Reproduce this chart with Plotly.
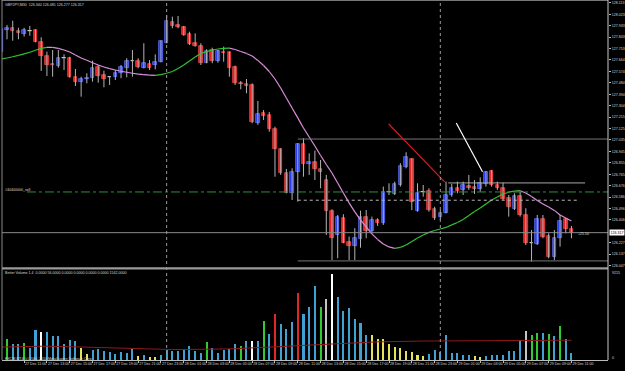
import plotly.graph_objects as go

# ---------------- data ----------------
candle_open = [
    127.729, 127.902, 127.915, 127.889, 127.870, 127.891, 127.899, 127.803, 127.695, 127.632,
    127.619, 127.677, 127.679, 127.532, 127.488, 127.512, 127.524, 127.608, 127.543, 127.527,
    127.527, 127.559, 127.603, 127.653, 127.656, 127.603, 127.634, 127.624, 127.650, 127.799,
    127.964, 127.939, 127.920, 127.870, 127.795, 127.776, 127.642, 127.742, 127.656, 127.729,
    127.724, 127.606, 127.480, 127.475, 127.467, 127.171, 127.245, 127.231, 127.121, 126.962,
    126.773, 126.620, 126.781, 127.003, 126.844, 126.862, 126.807, 126.720, 126.479, 126.288,
    126.424, 126.233, 126.201, 126.257, 126.432, 126.322, 126.406, 126.385, 126.628, 126.610,
    126.681, 126.825, 126.883, 126.479, 126.628, 126.636, 126.490, 126.427, 126.463, 126.602,
    126.655, 126.642, 126.673, 126.668, 126.647, 126.689, 126.793, 126.681, 126.660, 126.576,
    126.490, 126.594, 126.445, 126.223, 126.217, 126.411, 126.280, 126.113, 126.262, 126.411,
    126.337]
candle_high = [
    127.994, 127.939, 127.972, 127.917, 127.917, 127.931, 127.905, 127.842, 127.729, 127.742,
    127.742, 127.708, 127.689, 127.593, 127.532, 127.559, 127.658, 127.624, 127.579, 127.538,
    127.585, 127.624, 127.677, 127.742, 127.677, 127.795, 127.663, 127.708, 127.818, 128.017,
    128.004, 128.009, 127.931, 127.886, 127.873, 127.795, 127.748, 127.760, 127.742, 127.768,
    127.729, 127.619, 127.498, 127.514, 127.480, 127.341, 127.270, 127.255, 127.139, 126.969,
    126.807, 126.812, 127.009, 127.048, 126.930, 126.951, 126.877, 126.760, 126.490, 126.445,
    126.451, 126.275, 126.341, 126.479, 126.484, 126.432, 126.419, 126.668, 126.694, 126.707,
    126.852, 126.938, 126.891, 126.694, 126.681, 126.655, 126.510, 126.484, 126.707, 126.689,
    126.707, 126.707, 126.760, 126.720, 126.741, 126.791, 126.799, 126.707, 126.699, 126.602,
    126.616, 126.628, 126.498, 126.327, 126.445, 126.445, 126.301, 126.327, 126.445, 126.419,
    126.359]
candle_low = [
    127.722, 127.826, 127.815, 127.826, 127.847, 127.854, 127.803, 127.577, 127.538, 127.532,
    127.603, 127.585, 127.524, 127.459, 127.375, 127.480, 127.493, 127.485, 127.449, 127.467,
    127.506, 127.520, 127.527, 127.532, 127.598, 127.598, 127.585, 127.590, 127.645, 127.795,
    127.913, 127.913, 127.854, 127.781, 127.768, 127.624, 127.638, 127.638, 127.642, 127.650,
    127.532, 127.467, 127.433, 127.402, 127.166, 127.153, 127.192, 127.100, 126.746, 126.760,
    126.616, 126.563, 126.550, 126.746, 126.760, 126.720, 126.655, 126.288, 126.091, 126.105,
    126.223, 126.091, 126.091, 126.188, 126.262, 126.301, 126.359, 126.367, 126.602, 126.602,
    126.668, 126.812, 126.484, 126.471, 126.589, 126.471, 126.406, 126.406, 126.458, 126.589,
    126.616, 126.602, 126.642, 126.610, 126.628, 126.668, 126.668, 126.642, 126.563, 126.432,
    126.484, 126.432, 126.209, 126.078, 126.209, 126.262, 126.105, 126.091, 126.196, 126.301,
    126.262]
candle_close = [
    127.905, 127.915, 127.889, 127.876, 127.899, 127.890, 127.807, 127.695, 127.627, 127.622,
    127.682, 127.676, 127.532, 127.488, 127.514, 127.524, 127.601, 127.540, 127.516, 127.526,
    127.564, 127.606, 127.656, 127.652, 127.606, 127.638, 127.603, 127.650, 127.813, 127.970,
    127.931, 127.920, 127.862, 127.789, 127.776, 127.642, 127.734, 127.656, 127.734, 127.716,
    127.603, 127.480, 127.472, 127.461, 127.176, 127.237, 127.226, 127.119, 126.962, 126.773,
    126.620, 126.785, 127.001, 126.844, 126.862, 126.807, 126.785, 126.479, 126.262, 126.432,
    126.227, 126.204, 126.262, 126.432, 126.322, 126.406, 126.380, 126.624, 126.627, 126.686,
    126.830, 126.899, 126.550, 126.616, 126.627, 126.484, 126.419, 126.463, 126.602, 126.655,
    126.636, 126.679, 126.660, 126.647, 126.699, 126.785, 126.681, 126.655, 126.569, 126.506,
    126.594, 126.445, 126.223, 126.222, 126.411, 126.275, 126.113, 126.262, 126.398, 126.333,
    126.306]
moving_average = [
    127.671, 127.679, 127.689, 127.700, 127.711, 127.724, 127.740, 127.755, 127.763, 127.762,
    127.755, 127.742, 127.726, 127.703, 127.679, 127.661, 127.642, 127.624, 127.608, 127.595,
    127.585, 127.575, 127.567, 127.559, 127.553, 127.548, 127.544, 127.543, 127.549, 127.559,
    127.573, 127.597, 127.624, 127.656, 127.687, 127.715, 127.729, 127.742, 127.750, 127.754,
    127.756, 127.746, 127.730, 127.715, 127.695, 127.660, 127.620, 127.573, 127.514, 127.443,
    127.365, 127.286, 127.208, 127.129, 127.058, 126.987, 126.913, 126.842, 126.775, 126.697,
    126.618, 126.540, 126.469, 126.406, 126.351, 126.296, 126.253, 126.217, 126.194, 126.183,
    126.190, 126.209, 126.237, 126.264, 126.288, 126.308, 126.323, 126.335, 126.347, 126.367,
    126.386, 126.410, 126.441, 126.473, 126.500, 126.532, 126.563, 126.587, 126.610, 126.624,
    126.632, 126.636, 126.618, 126.591, 126.559, 126.532, 126.508, 126.481, 126.445, 126.422,
    126.398]
volume = [
    2537, 2126, 1684, 1612, 1715, 1273, 3122, 2845, 2876, 2465,
    2506, 1612, 2023, 1920, 1273, 657, 1068, 1171, 893, 822,
    657, 791, 688, 1099, 380, 555, 277, 277, 483, 1068,
    893, 924, 996, 1407, 924, 700, 1818, 1273, 719, 996,
    1171, 1684, 1407, 1951, 1951, 1951, 4005, 2639, 4663, 3666,
    3153, 3872, 6881, 4693, 5381, 7569, 5381, 6203, 8801, 6470,
    5001, 5279, 4180, 3738, 2609, 2537, 2198, 2126, 1612, 1335,
    1273, 924, 822, 555, 452, 585, 996, 822, 2537, 719,
    760, 555, 483, 380, 349, 380, 483, 555, 555, 924,
    924, 1951, 2978, 2537, 2773, 2773, 2711, 2434, 3461, 2198,
    719]
# Better Volume bar class: N normal, U climax up, D climax down, C churn, L low volume, S climax churn
volume_class = [
    "U", "C", "N", "N", "C", "N", "N", "D", "N", "N",
    "N", "N", "N", "N", "L", "L", "N", "N", "N", "N",
    "N", "N", "N", "N", "L", "N", "L", "L", "N", "N",
    "N", "N", "N", "N", "N", "N", "C", "N", "N", "N",
    "N", "N", "C", "N", "D", "N", "C", "N", "U", "N",
    "N", "N", "U", "N", "N", "N", "C", "S", "D", "N",
    "N", "N", "N", "N", "N", "L", "L", "L", "L", "L",
    "L", "L", "L", "L", "L", "N", "N", "N", "N", "N",
    "N", "N", "N", "L", "L", "N", "N", "N", "N", "N",
    "N", "N", "S", "C", "C", "N", "C", "N", "C", "N",
    "N"]
volume_average = [
    1325, 1345, 1356, 1366, 1376, 1386, 1397, 1407, 1407, 1407,
    1397, 1386, 1376, 1356, 1335, 1315, 1294, 1273, 1253, 1232,
    1212, 1191, 1171, 1150, 1140, 1119, 1099, 1089, 1078, 1068,
    1068, 1068, 1068, 1068, 1068, 1068, 1078, 1089, 1099, 1119,
    1140, 1160, 1181, 1202, 1232, 1253, 1273, 1304, 1335, 1366,
    1397, 1428, 1458, 1499, 1530, 1571, 1612, 1643, 1684, 1715,
    1746, 1766, 1787, 1808, 1828, 1849, 1859, 1869, 1890, 1900,
    1910, 1920, 1931, 1931, 1941, 1941, 1941, 1951, 1951, 1951,
    1962, 1962, 1962, 1972, 1972, 1972, 1982, 1982, 1982, 1992,
    1992, 1992, 2003, 2003, 2003, 2013, 2013, 2013, 2023, 2023,
    2023]
time_labels = [
    "27 Dec 2010", "27 Dec 11:00", "27 Dec 13:00", "27 Dec 15:00", "27 Dec 17:00",
    "27 Dec 19:00", "27 Dec 21:00", "27 Dec 23:00", "28 Dec 01:00", "28 Dec 03:00",
    "28 Dec 05:00", "28 Dec 07:00", "28 Dec 09:00", "28 Dec 11:00", "28 Dec 13:00",
    "28 Dec 15:00", "28 Dec 17:00", "28 Dec 19:00", "28 Dec 21:00", "28 Dec 23:00",
    "29 Dec 01:00", "29 Dec 03:00", "29 Dec 05:00", "29 Dec 07:00", "29 Dec 09:00",
    "29 Dec 11:00"]
time_label_bars = [0, 4, 8, 12, 16, 20, 24, 28, 32, 36, 40, 44, 48, 52, 56, 60, 64, 68,
                   72, 76, 80, 84, 88, 92, 96, 100]
price_tick_labels = [
    "128.113", "128.023", "127.933", "127.843", "127.753", "127.664", "127.574", "127.484",
    "127.394", "127.304", "127.215", "127.125", "127.035", "126.945", "126.855", "126.765",
    "126.676", "126.586", "126.496", "126.406", "126.227", "126.137", "126.047"]
day_separator_bars = [29, 77]
# horizontal objects: price, first bar
grey_levels = [127.042, 126.084]
grey_levels_from = [52, 52]
light_level = 126.697
light_level_from = 78.4
light_level_to = 102.4
sell_level = 126.626
dotted_level = 126.561
dotted_level_from = 52
dotted_level_to = 101.2
# trend lines: (bar, price) anchors
red_trend_bars = [67.95, 77.75]
red_trend_prices = [127.160, 126.705]
white_trend_bars = [79.8, 84.4]
white_trend_prices = [127.168, 126.785]
volume_scale_max = 9215

title_text = "GBPJPY,M30  126.340 126.481 126.277 126.317"
volume_title = "Better Volume 1.4  0.0000 56.0000 0.0000 0.0000 0.0000 0.0000 1542.0000"
copyright_text = "FXCM-MT4 (c) 2001-2010 MetaQuotes Software Corp."
sell_text = "#40400000_sell"
pips_text = "+25.50"
bid_text = "126.317"

# ---------------- styling ----------------
FONT = "Liberation Sans"
FS = 3.6
TXT = "#d8d8d8"
BULL = "#2038f4"
BULL_EDGE = "#6a7cff"
BEAR = "#e81f1f"
BEAR_EDGE = "#ff4a4a"
DOJI = "#eeeeee"
WICK = "#b4b4b4"
MA_UP = "#33c233"
MA_DOWN = "#d98fd9"
VOL_COLORS = {"N": "#3fa2d2", "U": "#e02626", "D": "#ffffff", "C": "#2ecc2e",
              "L": "#e3e35a", "S": "#c4c4c4"}

n = len(candle_open)
bars = list(range(n))
X0, X1 = 0.122, 106.41
Y0, Y1 = 126.036, 128.135

fig = go.Figure()

# wicks
wx, wy = [], []
for i in bars:
    wx += [i, i, None]
    wy += [candle_low[i], candle_high[i], None]
fig.add_trace(go.Scatter(x=wx, y=wy, mode="lines", line=dict(color=WICK, width=1),
                         hoverinfo="skip", yaxis="y"))

# bodies
base, height, fill, edge = [], [], [], []
for o, c in zip(candle_open, candle_close):
    base.append(min(o, c))
    height.append(abs(c - o))
    if abs(c - o) < 0.003:
        fill.append(DOJI); edge.append(DOJI)
    elif c > o:
        fill.append(BULL); edge.append(BULL_EDGE)
    else:
        fill.append(BEAR); edge.append(BEAR_EDGE)
fig.add_trace(go.Bar(x=bars, y=height, base=base, width=0.62, yaxis="y",
                     marker=dict(color=fill, line=dict(color=edge, width=0.7)),
                     hoverinfo="skip"))

# moving average coloured by slope
for colr, rising in ((MA_UP, True), (MA_DOWN, False)):
    mx, my = [], []
    for i in range(1, n):
        up = moving_average[i] >= moving_average[i - 1]
        if up == rising:
            mx += [i - 1, i, None]
            my += [moving_average[i - 1], moving_average[i], None]
    fig.add_trace(go.Scatter(x=mx, y=my, mode="lines", line=dict(color=colr, width=1.2),
                             hoverinfo="skip", yaxis="y"))

# horizontal objects
for lv, start in zip(grey_levels, grey_levels_from):
    fig.add_trace(go.Scatter(x=[start, X1], y=[lv, lv], mode="lines",
                             line=dict(color="#777777", width=1), hoverinfo="skip", yaxis="y"))
fig.add_trace(go.Scatter(x=[light_level_from, light_level_to], y=[light_level, light_level],
                         mode="lines", line=dict(color="#a8a8a8", width=1), hoverinfo="skip"))
fig.add_trace(go.Scatter(x=[4.5, X1], y=[sell_level, sell_level], mode="lines",
                         line=dict(color="#2f8f3f", width=1, dash="dashdot"), hoverinfo="skip"))
fig.add_trace(go.Scatter(x=[dotted_level_from, dotted_level_to], y=[dotted_level, dotted_level],
                         mode="lines", line=dict(color="#b8b8b8", width=1, dash="dot"),
                         hoverinfo="skip"))
# bid line
fig.add_trace(go.Scatter(x=[X0, X1], y=[candle_close[-1], candle_close[-1]], mode="lines",
                         line=dict(color="#8a8a8a", width=1), hoverinfo="skip"))
# trend lines
fig.add_trace(go.Scatter(x=red_trend_bars, y=red_trend_prices, mode="lines",
                         line=dict(color="#e01818", width=1.2), hoverinfo="skip"))
fig.add_trace(go.Scatter(x=white_trend_bars, y=white_trend_prices, mode="lines",
                         line=dict(color="#ffffff", width=1.2), hoverinfo="skip"))

# volume
fig.add_trace(go.Bar(x=bars, y=volume, width=0.36, yaxis="y2",
                     marker=dict(color=[VOL_COLORS[k] for k in volume_class], line=dict(width=0)),
                     hoverinfo="skip"))
fig.add_trace(go.Scatter(x=bars, y=volume_average, mode="lines", yaxis="y2",
                         line=dict(color="#8e1a1a", width=1), hoverinfo="skip"))

shapes = []
for b in day_separator_bars:
    shapes.append(dict(type="line", xref="x", yref="paper", x0=b, x1=b, y0=0, y1=1,
                       line=dict(color="#9a9a9a", width=1, dash="dot")))
# window frames
shapes.append(dict(type="rect", xref="paper", yref="paper", x0=0, x1=1, y0=0.2514, y1=0.2576,
                   fillcolor="#9a9a9a", line=dict(width=0)))
shapes.append(dict(type="line", xref="paper", yref="paper", x0=0, x1=1, y0=0.999, y1=0.999,
                   line=dict(color="#8a8a8a", width=1)))
shapes.append(dict(type="line", xref="paper", yref="paper", x0=0, x1=0, y0=0, y1=1,
                   line=dict(color="#8a8a8a", width=1)))
shapes.append(dict(type="line", xref="paper", yref="paper", x0=1, x1=1, y0=0, y1=1,
                   line=dict(color="#c8c8c8", width=1)))

annotations = [
    dict(xref="paper", yref="paper", x=0, y=1, xanchor="left", yanchor="top", xshift=1,
         yshift=-1, text=title_text, showarrow=False, font=dict(color=TXT, size=FS, family=FONT)),
    dict(xref="x", yref="y", x=X0, y=sell_level, xanchor="left", yanchor="middle", xshift=1,
         yshift=1.5, text=sell_text, showarrow=False, font=dict(color=TXT, size=FS, family=FONT)),
    dict(xref="x", yref="y", x=n - 1 + 0.8, y=candle_close[-1], xanchor="left", yanchor="middle",
         yshift=-1.5, text=pips_text, showarrow=False, font=dict(color=TXT, size=FS, family=FONT)),
    dict(xref="paper", yref="y", x=1, y=candle_close[-1], xanchor="left", yanchor="middle",
         xshift=1, text=bid_text, showarrow=False, bgcolor="#ffffff", borderpad=0.5,
         font=dict(color="#000000", size=FS, family=FONT)),
    dict(xref="paper", yref="paper", x=0, y=0.2425, xanchor="left", yanchor="middle", xshift=1,
         text=volume_title, showarrow=False, font=dict(color=TXT, size=FS, family=FONT)),
    dict(xref="paper", yref="paper", x=0, y=0.004, xanchor="left", yanchor="middle", xshift=1,
         text=copyright_text, showarrow=False, font=dict(color=TXT, size=FS, family=FONT)),
    dict(xref="paper", yref="paper", x=1, y=0.2425, xanchor="left", yanchor="middle", xshift=2,
         text=str(volume_scale_max), showarrow=False, font=dict(color=TXT, size=FS, family=FONT)),
    dict(xref="paper", yref="paper", x=1, y=0.006, xanchor="left", yanchor="middle", xshift=2,
         text="0", showarrow=False, font=dict(color=TXT, size=FS, family=FONT)),
]

fig.update_layout(
    width=625, height=371, margin=dict(l=2, r=15, t=0, b=11),
    paper_bgcolor="#000000", plot_bgcolor="#000000", showlegend=False,
    barmode="overlay", bargap=0, hovermode=False,
    xaxis=dict(range=[X0, X1], showgrid=False, zeroline=False, anchor="y2",
               tickvals=time_label_bars, ticktext=time_labels, ticks="outside", ticklen=2,
               tickangle=0, tickcolor="#bbbbbb", ticklabelposition="outside right",
               tickfont=dict(color=TXT, size=FS, family=FONT), showline=True,
               linecolor="#bbbbbb", linewidth=1),
    yaxis=dict(domain=[0.2583, 1], range=[Y0, Y1], side="right", showgrid=False,
               zeroline=False, tickvals=[float(t) for t in price_tick_labels],
               ticktext=price_tick_labels, ticks="outside", ticklen=2, tickcolor="#bbbbbb",
               tickfont=dict(color=TXT, size=FS, family=FONT)),
    yaxis2=dict(domain=[0, 0.25], range=[0, volume_scale_max], side="right", showgrid=False,
                zeroline=False, showticklabels=False, ticks=""),
    shapes=shapes, annotations=annotations,
)

fig.write_html("out.html")
